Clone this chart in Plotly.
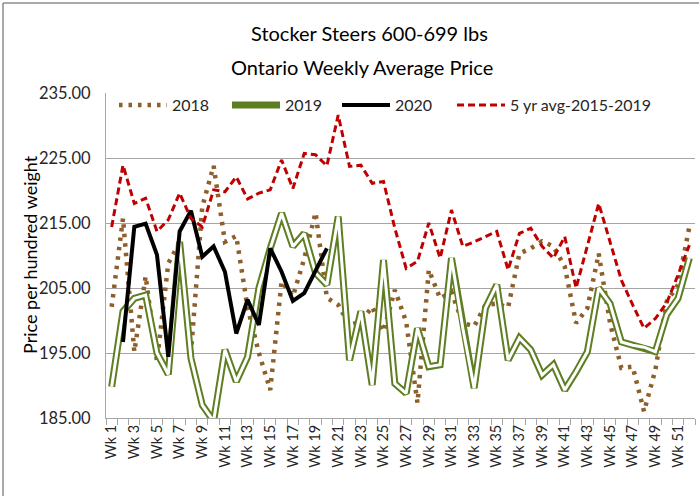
import plotly.graph_objects as go

weeks = list(range(1, 53))
week_labels = [f"Wk {w}" for w in weeks]

y2018 = [202.1, 215.7, 195.2, 206.8, 193.7, 208.8, 212.0, 195.0, 217.5, 223.8,
         212.1, 213.0, 202.0, 195.0, 189.3, 206.0, 203.7, 209.5, 216.6, 203.5,
         202.4, 199.3, 199.8, 202.1, 198.3, 204.7, 199.8, 187.3, 207.8, 203.4,
         204.4, 199.6, 199.1, 202.4, 202.6, 202.0, 210.3, 211.1, 212.2, 211.4,
         208.3, 199.6, 201.9, 210.3, 199.6, 192.7, 192.9, 186.0, 192.4, 202.9,
         205.5, 214.4]

y2019 = [189.8, 201.4, 203.4, 203.9, 195.0, 191.7, 212.1, 194.2, 187.0, 184.5,
         195.5, 190.6, 194.4, 205.0, 211.1, 216.5, 211.4, 213.4, 207.3, 205.5,
         216.0, 193.9, 201.4, 190.1, 209.3, 190.3, 188.8, 198.8, 192.9, 193.2,
         209.6, 198.8, 189.6, 201.9, 205.5, 193.9, 197.3, 195.5, 191.6, 193.2,
         189.3, 192.1, 195.2, 205.0, 202.6, 196.7, 196.2, 195.9, 195.2, 200.9,
         203.4, 209.6]

y2020 = [None, 196.7, 214.4, 214.9, 210.1, 194.4, 213.7, 216.9, 209.8, 211.4,
         207.5, 198.0, 203.2, 199.3, 211.1, 207.5, 203.0, 204.2, 207.8, 211.1]

avg5 = [214.4, 223.9, 218.0, 218.8, 213.7, 215.5, 219.6, 215.7, 214.4, 220.1,
        219.8, 222.1, 218.7, 219.6, 220.1, 224.7, 220.3, 225.7, 225.5, 223.8,
        231.6, 223.7, 223.9, 221.1, 221.4, 214.2, 208.0, 209.1, 215.0, 209.6,
        217.0, 211.4, 212.1, 212.9, 213.7, 207.8, 213.4, 214.2, 211.4, 209.6,
        212.9, 205.0, 211.6, 218.0, 212.1, 206.2, 202.4, 198.8, 200.3, 202.7,
        207.0, 211.6]

y_ticks = [185, 195, 205, 215, 225, 235]

FONT = "Lato, 'Open Sans', sans-serif"
BROWN = "#8E5F2A"
GREEN = "#5E7E22"
RED = "#C00000"
TXT = "#262626"

L, R, T, B = 106, 4, 93, 78
W, H = 699, 496
pw, ph = W - L - R, H - T - B

def px_x(x):
    return (x - L) / pw

def px_y(y):
    return (H - B - y) / ph

fig = go.Figure()
fig.add_trace(go.Scatter(x=weeks, y=y2018, name="2018", mode="lines", legend="legend",
                         line=dict(color=BROWN, width=4.5, dash="3.5px,6px")))
fig.add_trace(go.Scatter(x=weeks, y=y2019, name="2019", mode="lines", legend="legend2",
                         line=dict(color=GREEN, width=7)))
fig.add_trace(go.Scatter(x=weeks, y=y2019, name="2019", mode="lines", showlegend=False,
                         hoverinfo="skip", line=dict(color="white", width=3)))
fig.add_trace(go.Scatter(x=weeks[:len(y2020)], y=y2020, name="2020", mode="lines",
                         legend="legend3", line=dict(color="black", width=4)))
fig.add_trace(go.Scatter(x=weeks, y=avg5, name="5 yr avg-2015-2019", mode="lines",
                         legend="legend4", line=dict(color=RED, width=3, dash="7px,4px")))

def leg(x_sym):
    return dict(orientation="h", x=px_x(x_sym - 3), y=px_y(105), xanchor="left",
                yanchor="middle", bgcolor="rgba(0,0,0,0)", itemwidth=48,
                font=dict(size=16, color=TXT, family=FONT))

fig.update_layout(
    width=W, height=H,
    margin=dict(l=L, r=R, t=T, b=B, pad=0),
    paper_bgcolor="white", plot_bgcolor="white",
    font=dict(family=FONT, color=TXT),
    showlegend=True,
    legend=leg(117), legend2=leg(230), legend3=leg(340), legend4=leg(455),
    xaxis=dict(range=[0.5, 52.5], tickmode="array", tickvals=weeks[::2],
               ticktext=week_labels[::2], tickangle=-90, ticks="",
               tickfont=dict(size=14.5, color=TXT), showgrid=False,
               showline=True, linecolor="#a6a6a6", linewidth=1, zeroline=False,
               minor=dict(ticks="outside", tick0=0.5, dtick=1, ticklen=6,
                          tickcolor="#a6a6a6", showgrid=False)),
    yaxis=dict(range=[185, 235], tickmode="array", tickvals=y_ticks,
               ticktext=[f"{v:.2f}" for v in y_ticks], tickfont=dict(size=16.5, color=TXT),
               showgrid=True, gridcolor="#a6a6a6", gridwidth=1, showline=True,
               linecolor="#a6a6a6", linewidth=1, zeroline=False, ticks="",
               ticklabelstandoff=11),
    annotations=[
        dict(text="Stocker Steers 600-699 lbs", x=px_x(369), y=px_y(33), xref="paper", yref="paper",
             xanchor="center", yanchor="middle",
             showarrow=False, font=dict(size=20, color="black", family=FONT)),
        dict(text="Ontario Weekly Average Price", x=px_x(362), y=px_y(67), xref="paper", yref="paper",
             xanchor="center", yanchor="middle",
             showarrow=False, font=dict(size=20, color="black", family=FONT)),
        dict(text="Price per hundred weight", x=px_x(30), y=px_y(255), xref="paper", yref="paper",
             xanchor="center", yanchor="middle",
             showarrow=False, textangle=-90, font=dict(size=18, color="black", family=FONT)),
    ],
    shapes=[
        dict(type="line", xref="paper", yref="paper", x0=px_x(3), x1=px_x(3),
             y0=px_y(H), y1=px_y(3), line=dict(color="#8c8c8c", width=1.5)),
        dict(type="line", xref="paper", yref="paper", x0=px_x(3), x1=px_x(W),
             y0=px_y(3), y1=px_y(3), line=dict(color="#8c8c8c", width=1.5)),
    ],
)

fig.write_html("out.html", config={"displayModeBar": False},
               post_script="document.body.style.margin='0';")
